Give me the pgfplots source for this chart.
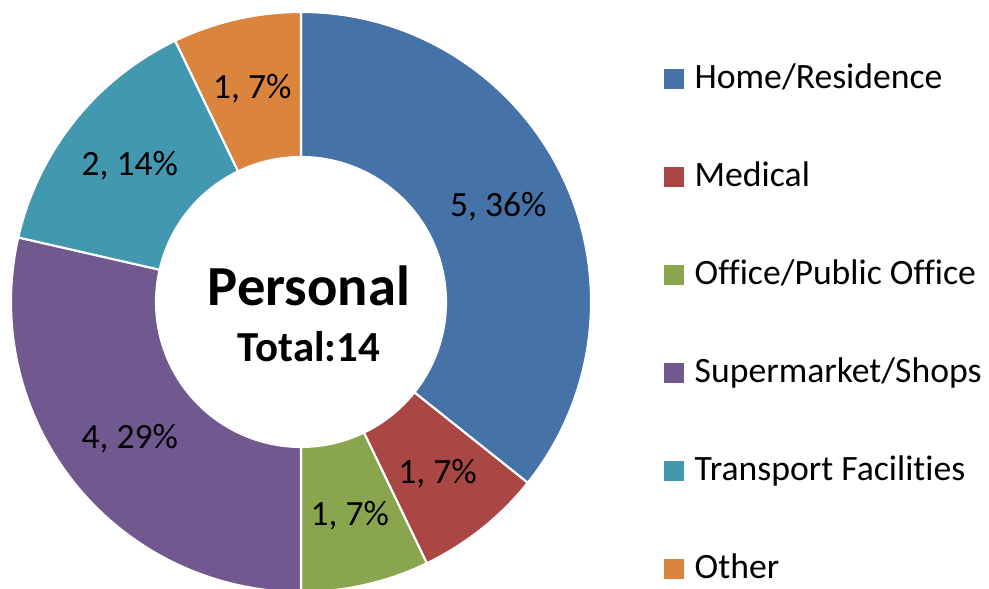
\documentclass[border=0pt]{standalone}
\usepackage{pgfplots}
\usepackage{pgfplotstable}
\pgfplotsset{compat=1.18}
\usepackage{fontspec}
\setmainfont{Carlito}[Ligatures=CommonOff]

\definecolor{cHome}{HTML}{4572A7}
\definecolor{cMed}{HTML}{AA4643}
\definecolor{cOff}{HTML}{89A54E}
\definecolor{cSup}{HTML}{71588F}
\definecolor{cTra}{HTML}{4198AF}
\definecolor{cOth}{HTML}{DB843D}

% slices, clockwise from 12 o'clock
\pgfplotstableread[col sep=comma]{
label,value,color
Home/Residence,5,cHome
Medical,1,cMed
Office/Public Office,1,cOff
Supermarket/Shops,4,cSup
Transport Facilities,2,cTra
Other,1,cOth
}\pietable

\begin{document}
\begin{tikzpicture}
\begin{axis}[
  scale only axis, width=9.89cm, height=5.89cm,
  xmin=0, xmax=989, ymin=0, ymax=589,
  hide axis, clip=false,
]
\pgfplotsextra{%
  \coordinate (O) at (axis cs:301,287);
  \gdef\cum{0}%
  \foreach \i in {0,...,5}{%
    \pgfplotstablegetelem{\i}{value}\of\pietable \let\v\pgfplotsretval
    \pgfplotstablegetelem{\i}{color}\of\pietable \let\c\pgfplotsretval
    \pgfplotstablegetelem{\i}{label}\of\pietable \let\l\pgfplotsretval
    \pgfmathsetmacro\a{90-360*\cum/14}%
    \pgfmathsetmacro\b{90-360*(\cum+\v)/14}%
    \pgfmathsetmacro\m{(\a+\b)/2}%
    \pgfmathtruncatemacro\p{round(100*\v/14)}%
    \path[fill=\c, draw=white, line width=0.6pt]
      ([shift={(\a:2.9cm)}]O) arc[start angle=\a, end angle=\b, radius=2.9cm]
      -- ([shift={(\b:1.45cm)}]O) arc[start angle=\b, end angle=\a, radius=1.45cm] -- cycle;
    \node[font=\fontsize{10.1}{12}\selectfont] at ([shift={(\m:2.19cm)}]O) {\v, \p\%};
    % legend
    \pgfmathsetmacro\ly{589-79-98*\i}%
    \fill[\c] (axis cs:664,\ly-10) rectangle (axis cs:684,\ly+10);
    \node[anchor=base west, inner sep=0pt, font=\fontsize{10.15}{12}\selectfont]
      at (axis cs:694,\ly-10) {\l};
    \pgfmathsetmacro\n{\cum+\v}\xdef\cum{\n}%
  }%
  \node[font=\fontsize{16.1}{18}\selectfont\bfseries, anchor=base] at (axis cs:309,283) {Personal};
  \node[font=\fontsize{12.2}{14}\selectfont\bfseries, anchor=base] at (axis cs:309,227) {Total:14};
}
\end{axis}
\pgfresetboundingbox
\path[use as bounding box] (current axis.south west) rectangle (current axis.north east);
\end{tikzpicture}
\end{document}
